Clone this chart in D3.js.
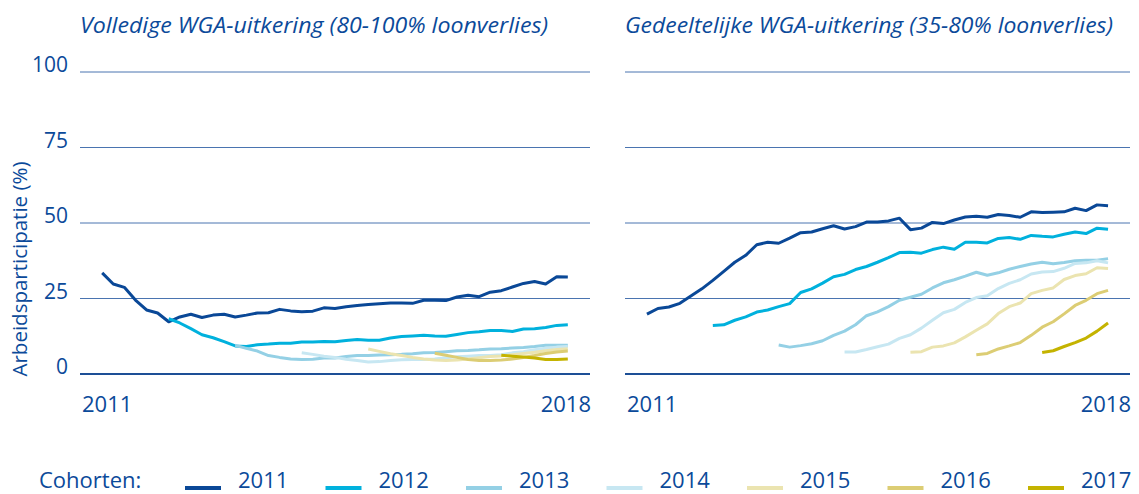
<!DOCTYPE html>
<html>
<head>
<meta charset="utf-8">
<script src="https://cdn.jsdelivr.net/npm/d3@7"></script>
<style>
  body { margin: 0; background: #fff; }
  text { font-family: "Open Sans", sans-serif; fill: #0b4a9a; }
</style>
</head>
<body>
<svg id="chart" width="1139" height="494"></svg>
<script>
// cohorts and colours
var cohorts = ["2011", "2012", "2013", "2014", "2015", "2016", "2017"];
var colors = ["#0a4897", "#00b1dd", "#94d0e5", "#c7e7f2", "#ebe4b0", "#dccd74", "#c4b300"];
// first month of each cohort (months since start of 2011), values every 2 months
var startMonth = [0, 12, 24, 36, 48, 60, 72];
var step = 2;

// Volledige WGA-uitkering
var vol2011 = [33.5, 29.8, 28.7, 24.5, 21.2, 20.2, 17.3, 18.9, 19.8, 18.7, 19.5, 19.8, 18.9, 19.5, 20.2, 20.3, 21.4, 20.9, 20.6, 20.8, 21.9, 21.7, 22.3, 22.7, 23, 23.3, 23.5, 23.5, 23.4, 24.4, 24.4, 24.3, 25.5, 26.1, 25.6, 27.1, 27.6, 28.8, 30, 30.6, 29.8, 32.2, 32.1];
var vol2012 = [18.3, 16.9, 15, 13, 12, 10.7, 9.3, 9.1, 9.7, 9.9, 10.2, 10.2, 10.6, 10.6, 10.8, 10.7, 11.1, 11.4, 11.2, 11.2, 11.9, 12.4, 12.6, 12.8, 12.6, 12.5, 13.1, 13.7, 14, 14.4, 14.4, 14.1, 14.9, 15, 15.4, 16.1, 16.3];
var vol2013 = [9.5, 8.5, 7.6, 6.1, 5.5, 5, 4.8, 4.9, 5.3, 5.3, 5.8, 6.1, 6.1, 6.3, 6.4, 6.5, 6.7, 7, 7.1, 7.4, 7.7, 7.8, 8, 8.3, 8.4, 8.6, 8.8, 9.1, 9.5, 9.5, 9.5];
var vol2014 = [7, 6.5, 5.9, 5.5, 4.9, 4.5, 4, 4.1, 4.5, 4.7, 4.8, 4.8, 5, 5.4, 5.7, 5.9, 6.1, 6.1, 6.4, 7, 7.4, 8, 8.5, 8.9, 9.1];
var vol2015 = [8.3, 7.5, 6.7, 6.1, 5.5, 5, 4.6, 4.5, 4.6, 5, 5.4, 5.8, 6, 6.4, 6.8, 7.2, 7.7, 8.1, 8.4];
var vol2016 = [6.9, 6.2, 5.5, 4.8, 4.5, 4.5, 4.6, 5, 5.5, 6.1, 6.8, 7.3, 7.6];
var vol2017 = [6.2, 5.9, 5.6, 5.3, 4.8, 4.8, 5];

// Gedeeltelijke WGA-uitkering
var ged2011 = [19.8, 21.7, 22.2, 23.4, 25.8, 28.2, 31, 34, 37, 39.3, 42.8, 43.6, 43.3, 45, 46.8, 47, 48.1, 49.1, 48, 48.8, 50.3, 50.3, 50.7, 51.6, 47.8, 48.3, 50.2, 49.8, 51, 52, 52.2, 51.9, 52.8, 52.5, 51.9, 53.7, 53.5, 53.6, 53.7, 54.9, 54.1, 56, 55.7];
var ged2012 = [16.1, 16.3, 17.8, 18.9, 20.5, 21.2, 22.3, 23.3, 27, 28.2, 30.1, 32.2, 33, 34.6, 35.6, 37, 38.5, 40.2, 40.3, 40, 41.2, 42, 41.3, 43.6, 43.6, 43.4, 44.9, 45.2, 44.6, 45.9, 45.6, 45.4, 46.3, 47, 46.5, 48.3, 47.9];
var ged2013 = [9.6, 8.9, 9.4, 10, 11, 12.8, 14.2, 16.3, 19.3, 20.6, 22.3, 24.4, 25.4, 26.4, 28.5, 30.2, 31.2, 32.4, 33.7, 32.7, 33.5, 34.7, 35.6, 36.4, 37, 36.5, 36.9, 37.5, 37.7, 37.7, 38.2];
var ged2014 = [7.3, 7.3, 8.1, 9, 9.9, 11.8, 13, 15.2, 17.8, 20.3, 21.4, 23.7, 25.3, 25.9, 28.3, 30, 31.2, 33.1, 33.8, 33.9, 35, 36.6, 36.8, 37.5, 36.8];
var ged2015 = [7.2, 7.4, 8.9, 9.3, 10.3, 12.3, 14.5, 16.6, 20, 22.3, 23.5, 26.6, 27.7, 28.5, 31.3, 32.6, 33.2, 35.2, 34.9];
var ged2016 = [6.4, 6.8, 8.3, 9.3, 10.4, 12.8, 15.5, 17.3, 19.9, 22.7, 24.4, 26.6, 27.7];
var ged2017 = [7.1, 7.7, 9.1, 10.4, 11.9, 14.2, 16.9];

var panels = [
  { title: "Volledige WGA-uitkering (80-100% loonverlies)", x0: 80, x1: 590, tw: 468,
    series: [vol2011, vol2012, vol2013, vol2014, vol2015, vol2016, vol2017], yLabels: true },
  { title: "Gedeeltelijke WGA-uitkering (35-80% loonverlies)", x0: 625, x1: 1130, tw: 488,
    series: [ged2011, ged2012, ged2013, ged2014, ged2015, ged2016, ged2017], yLabels: false }
];

var yTicks = [0, 25, 50, 75, 100];
var xLabels = ["2011", "2018"];

var svg = d3.select("#chart");
var y = d3.scaleLinear().domain([0, 100]).range([374, 72]);

panels.forEach(function(p) {
  var x = d3.scaleLinear().domain([-4, 88]).range([p.x0, p.x1]);
  var g = svg.append("g");

  g.append("text")
    .attr("x", p.x0).attr("y", 33)
    .attr("font-size", 21).attr("font-style", "italic")
    .attr("textLength", p.tw).attr("lengthAdjust", "spacingAndGlyphs")
    .text(p.title);

  // gridlines
  g.selectAll("line.grid")
    .data(yTicks)
    .enter().append("line")
    .attr("x1", p.x0).attr("x2", p.x1)
    .attr("y1", d => y(d)).attr("y2", d => y(d))
    .attr("stroke", d => d === 0 ? "#1d4f96" : "#4a74b0")
    .attr("stroke-width", d => d === 0 ? 2 : 1);

  if (p.yLabels) {
    g.selectAll("text.ytick")
      .data(yTicks)
      .enter().append("text")
      .attr("x", 68).attr("y", d => y(d))
      .attr("text-anchor", "end")
      .attr("font-size", 21)
      .text(d => d);
  }

  g.append("text").attr("x", p.x0 + 2).attr("y", 412).attr("font-size", 22).text(xLabels[0]);
  g.append("text").attr("x", p.x1 + 1).attr("y", 412).attr("font-size", 22)
    .attr("text-anchor", "end").text(xLabels[1]);

  var line = d3.line()
    .x(d => x(d.m))
    .y(d => y(d.v));

  p.series.forEach(function(vals, i) {
    var pts = vals.map((v, j) => ({ m: startMonth[i] + j * step, v: v }));
    g.append("path")
      .attr("d", line(pts))
      .attr("fill", "none")
      .attr("stroke", colors[i])
      .attr("stroke-width", 3)
      .attr("stroke-linejoin", "round");
  });
});

// y axis title
svg.append("text")
  .attr("transform", "translate(27,269) rotate(-90)")
  .attr("text-anchor", "middle")
  .attr("font-size", 20.5)
  .text("Arbeidsparticipatie (%)");

// legend
var legend = svg.append("g");
legend.append("text").attr("x", 39).attr("y", 488).attr("font-size", 22).text("Cohorten:");
var lx = d3.scaleLinear().domain([0, 6]).range([185, 1028]);
cohorts.forEach(function(c, i) {
  legend.append("line")
    .attr("x1", lx(i)).attr("x2", lx(i) + 36)
    .attr("y1", 488).attr("y2", 488)
    .attr("stroke", colors[i]).attr("stroke-width", 4);
  legend.append("text")
    .attr("x", lx(i) + 53).attr("y", 488)
    .attr("font-size", 22)
    .text(c);
});
</script>
</body>
</html>
